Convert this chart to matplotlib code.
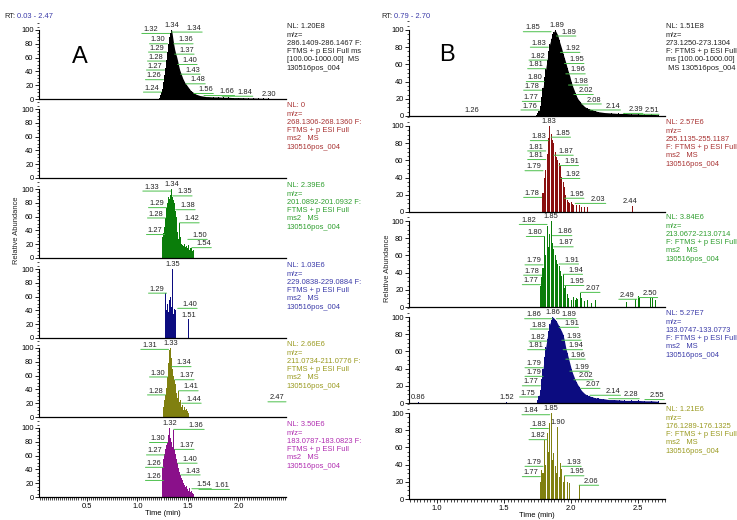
import numpy as np
import matplotlib.pyplot as plt
from matplotlib.ticker import MultipleLocator

plt.rcParams['font.family'] = ['Liberation Sans', 'DejaVu Sans']

# ---- panel A data (time in min, relative abundance) ----
t_286 = [1.22, 1.23, 1.24, 1.25, 1.26, 1.27, 1.28, 1.29, 1.30, 1.31, 1.32, 1.33, 1.34, 1.35,
         1.36, 1.37, 1.38, 1.39, 1.40, 1.41, 1.42, 1.43, 1.44, 1.45, 1.46, 1.47, 1.48, 1.49,
         1.50, 1.51, 1.52, 1.53, 1.54, 1.55, 1.56, 1.57, 1.58, 1.60, 1.62, 1.64, 1.66, 1.68,
         1.70, 1.75, 1.80, 1.85, 1.90, 1.95, 2.00, 2.05, 2.10, 2.15, 2.20, 2.25, 2.30]
y_286 = [2, 6, 10, 15, 25, 35, 45, 56, 68, 80, 90, 96, 100, 90, 80, 72, 66, 61, 55, 48, 42,
         38, 34, 30, 27, 24, 22, 20, 18, 16, 14, 12, 11, 10, 9, 8, 7, 6, 5, 4.5, 4, 3.5, 3.5,
         3, 3, 2.5, 2.5, 2, 2, 1.8, 1.5, 1.5, 1.2, 1, 1]
t_201 = [1.25, 1.26, 1.27, 1.28, 1.29, 1.30, 1.31, 1.32, 1.33, 1.34, 1.35, 1.36, 1.37, 1.38,
         1.39, 1.40, 1.41, 1.42, 1.43, 1.44, 1.45, 1.46, 1.47, 1.48, 1.49, 1.50, 1.51, 1.52,
         1.53, 1.54, 1.55, 1.56]
y_201 = [30, 36, 45, 58, 72, 80, 89, 86, 92, 100, 89, 84, 79, 68, 60, 38, 28, 51, 30, 20, 19,
         17, 20, 16, 18, 14, 19, 12, 15, 14, 10, 12]
t_229 = [1.28, 1.29, 1.30, 1.31, 1.32, 1.33, 1.34, 1.35, 1.36, 1.37, 1.38, 1.51]
y_229 = [65, 40, 50, 38, 55, 60, 45, 100, 35, 42, 40, 27]
t_211 = [1.26, 1.27, 1.28, 1.29, 1.30, 1.31, 1.32, 1.33, 1.34, 1.35, 1.36, 1.37, 1.38, 1.39,
         1.40, 1.41, 1.42, 1.43, 1.44, 1.45, 1.46, 1.47, 1.48, 1.49, 1.50, 1.51, 2.47]
y_211 = [15, 25, 32, 42, 58, 78, 97, 100, 85, 70, 60, 54, 48, 35, 28, 38, 22, 25, 15, 18, 10,
         14, 10, 12, 8, 6, 22]
t_183 = [1.25, 1.26, 1.27, 1.28, 1.29, 1.30, 1.31, 1.32, 1.33, 1.34, 1.35, 1.36, 1.37, 1.38,
         1.39, 1.40, 1.41, 1.42, 1.43, 1.44, 1.45, 1.46, 1.47, 1.48, 1.49, 1.50, 1.51, 1.52,
         1.53, 1.54, 1.55, 1.56, 1.58, 1.61]
y_183 = [44, 55, 62, 70, 76, 80, 90, 100, 86, 80, 72, 97, 70, 62, 55, 49, 42, 36, 32, 28, 24,
         20, 17, 14, 16, 11, 9, 13, 7, 9, 6, 5, 4, 11]

# ---- panel B data ----
t_273 = [1.26, 1.74, 1.75, 1.76, 1.77, 1.78, 1.79, 1.80, 1.81, 1.82, 1.83, 1.84, 1.85, 1.86,
         1.87, 1.88, 1.89, 1.90, 1.91, 1.92, 1.93, 1.94, 1.95, 1.96, 1.97, 1.98, 1.99, 2.00,
         2.01, 2.02, 2.03, 2.04, 2.05, 2.06, 2.07, 2.08, 2.10, 2.12, 2.14, 2.16, 2.18, 2.20,
         2.25, 2.30, 2.35, 2.40, 2.45, 2.50, 2.55, 2.60, 2.65]
y_273 = [0.5, 1, 3, 6, 12, 22, 32, 45, 55, 65, 75, 84, 90, 95, 98, 100, 97, 94, 88, 83, 78,
         72, 67, 62, 56, 51, 46, 40, 35, 31, 27, 23, 20, 18, 16, 14, 11, 9, 8, 7, 6, 5, 4,
         3.5, 3, 3, 2.5, 2.5, 2, 2, 1.5]
t_255 = [1.79, 1.80, 1.81, 1.82, 1.83, 1.84, 1.85, 1.86, 1.87, 1.88, 1.89, 1.90, 1.91, 1.92,
         1.93, 1.94, 1.95, 1.96, 1.97, 1.98, 1.99, 2.00, 2.01, 2.02, 2.04, 2.06, 2.08, 2.10,
         2.12, 2.46]
y_255 = [22, 40, 49, 68, 86, 100, 91, 84, 80, 70, 64, 60, 57, 53, 41, 35, 29, 20, 14, 12, 10,
         12, 9, 8, 8, 8, 6, 6, 6, 7]
t_213 = [1.77, 1.78, 1.79, 1.80, 1.81, 1.82, 1.83, 1.84, 1.85, 1.86, 1.87, 1.88, 1.89, 1.90,
         1.91, 1.92, 1.93, 1.94, 1.95, 1.96, 1.97, 1.98, 2.00, 2.02, 2.03, 2.04, 2.05, 2.07,
         2.08, 2.10, 2.12, 2.15, 2.18, 2.41, 2.48, 2.50, 2.51, 2.59, 2.61, 2.63]
y_213 = [24, 35, 45, 83, 60, 94, 70, 85, 100, 75, 68, 60, 55, 50, 48, 42, 36, 38, 22, 25, 15,
         10, 8, 12, 8, 10, 9, 16, 10, 7, 8, 5, 8, 6, 9, 13, 10, 12, 10, 8]
t_133 = [0.86, 1.52, 1.75, 1.76, 1.77, 1.78, 1.79, 1.80, 1.81, 1.82, 1.83, 1.84, 1.85, 1.86,
         1.87, 1.88, 1.89, 1.90, 1.91, 1.92, 1.93, 1.94, 1.95, 1.96, 1.97, 1.98, 1.99, 2.00,
         2.01, 2.02, 2.03, 2.04, 2.05, 2.06, 2.07, 2.08, 2.10, 2.12, 2.14, 2.16, 2.18, 2.20,
         2.24, 2.28, 2.32, 2.36, 2.40, 2.45, 2.50, 2.55, 2.60, 2.65]
y_133 = [1, 1, 3, 8, 15, 28, 40, 54, 65, 75, 84, 92, 96, 100, 99, 97, 95, 92, 89, 86, 83, 79,
         72, 64, 58, 52, 46, 40, 35, 31, 27, 24, 21, 19, 16, 14, 11, 9, 8, 7, 6, 5.5, 5, 4, 4,
         3.5, 3, 3, 3, 2.5, 2.5, 2]
t_176 = [1.77, 1.78, 1.79, 1.80, 1.81, 1.82, 1.83, 1.84, 1.85, 1.86, 1.87, 1.88, 1.89, 1.90,
         1.91, 1.92, 1.93, 1.94, 1.95, 1.97, 1.99, 2.06]
y_176 = [20, 34, 30, 69, 40, 77, 55, 88, 100, 45, 53, 38, 30, 84, 26, 42, 35, 20, 27, 20, 19, 16]

# peak labels: (text, level, side) - side: c above, l/L left (short/long lead), r/R right
lab_286 = [('1.34', 100, 'c'), ('1.32', 95, 'L'), ('1.30', 80, 'l'), ('1.29', 68, 'l'),
           ('1.28', 55, 'l'), ('1.27', 42, 'l'), ('1.26', 28, 'l'), ('1.24', 10, 'l'),
           ('1.34', 97, 'R'), ('1.36', 80, 'r'), ('1.37', 65, 'r'), ('1.40', 50, 'r'),
           ('1.43', 36, 'r'), ('1.48', 22, 'r'), ('1.56', 8, 'r'), ('1.66', 5, 'R'),
           ('1.84', 4, 'R'), ('2.30', 1, 'c')]
lab_201 = [('1.34', 100, 'c'), ('1.33', 97, 'L'), ('1.29', 73, 'l'), ('1.28', 58, 'l'),
           ('1.27', 34, 'l'), ('1.35', 90, 'r'), ('1.38', 70, 'r'), ('1.42', 51, 'r'),
           ('1.50', 27, 'r'), ('1.54', 15, 'r')]
lab_229 = [('1.35', 100, 'c'), ('1.29', 65, 'l'), ('1.40', 43, 'r'), ('1.51', 27, 'c')]
lab_211 = [('1.33', 100, 'c'), ('1.31', 98, 'L'), ('1.30', 58, 'l'), ('1.28', 32, 'l'),
           ('1.34', 73, 'r'), ('1.37', 54, 'r'), ('1.41', 38, 'r'), ('1.44', 20, 'r'),
           ('2.47', 22, 'l')]
lab_183 = [('1.32', 100, 'c'), ('1.30', 79, 'l'), ('1.27', 61, 'l'), ('1.26', 43, 'l'),
           ('1.26', 24, 'l'), ('1.36', 98, 'R'), ('1.37', 69, 'r'), ('1.40', 49, 'r'),
           ('1.43', 32, 'r'), ('1.54', 12, 'r'), ('1.61', 11, 'R')]
lab_273 = [('1.89', 100, 'c'), ('1.85', 98, 'L'), ('1.83', 80, 'l'), ('1.82', 65, 'l'),
           ('1.81', 55, 'l'), ('1.80', 40, 'l'), ('1.78', 30, 'l'), ('1.77', 17, 'l'),
           ('1.76', 7, 'l'), ('1.89', 93, 'r'), ('1.92', 74, 'r'), ('1.95', 61, 'r'),
           ('1.96', 49, 'r'), ('1.98', 36, 'r'), ('2.02', 25, 'r'), ('2.08', 14, 'r'),
           ('2.14', 7, 'R'), ('2.39', 3, 'r'), ('2.51', 2, 'r'), ('1.26', 1, 'c')]
lab_255 = [('1.83', 100, 'c'), ('1.83', 83, 'l'), ('1.81', 71, 'l'), ('1.81', 61, 'l'),
           ('1.79', 48, 'l'), ('1.78', 17, 'l'), ('1.85', 87, 'r'), ('1.87', 66, 'r'),
           ('1.91', 54, 'r'), ('1.92', 39, 'r'), ('1.95', 16, 'r'), ('2.03', 10, 'R'),
           ('2.44', 7, 'c')]
lab_213 = [('1.85', 100, 'c'), ('1.82', 96, 'L'), ('1.80', 82, 'l'), ('1.79', 49, 'l'),
           ('1.78', 37, 'l'), ('1.77', 26, 'l'), ('1.86', 83, 'r'), ('1.87', 70, 'r'),
           ('1.91', 50, 'r'), ('1.94', 38, 'r'), ('1.95', 25, 'r'), ('2.07', 17, 'r'),
           ('2.49', 9, 'l'), ('2.50', 11, 'r')]
lab_133 = [('1.86', 100, 'c'), ('1.86', 98, 'L'), ('1.83', 86, 'l'), ('1.82', 72, 'l'),
           ('1.81', 62, 'l'), ('1.79', 41, 'l'), ('1.79', 31, 'l'), ('1.77', 20, 'l'),
           ('1.75', 7, 'l'), ('1.89', 98, 'r'), ('1.91', 88, 'r'), ('1.93', 73, 'r'),
           ('1.94', 62, 'r'), ('1.96', 51, 'r'), ('1.99', 37, 'r'), ('2.02', 27, 'r'),
           ('2.07', 17, 'r'), ('2.14', 9, 'R'), ('2.28', 5, 'R'), ('2.55', 4, 'r'),
           ('1.52', 2, 'c'), ('0.86', 2, 'c')]
lab_176 = [('1.85', 100, 'c'), ('1.84', 98, 'L'), ('1.83', 82, 'l'), ('1.82', 69, 'l'),
           ('1.79', 38, 'l'), ('1.77', 26, 'l'), ('1.90', 84, 'c'), ('1.93', 38, 'r'),
           ('1.95', 27, 'r'), ('2.06', 16, 'r')]

info_a = ['NL: 1.20E8\nm/z=\n286.1409-286.1467 F:\nFTMS + p ESI Full ms\n[100.00-1000.00]  MS\n130516pos_004',
          'NL: 0\nm/z=\n268.1306-268.1360 F:\nFTMS + p ESI Full\nms2   MS\n130516pos_004',
          'NL: 2.39E6\nm/z=\n201.0892-201.0932 F:\nFTMS + p ESI Full\nms2   MS\n130516pos_004',
          'NL: 1.03E6\nm/z=\n229.0838-229.0884 F:\nFTMS + p ESI Full\nms2   MS\n130516pos_004',
          'NL: 2.66E6\nm/z=\n211.0734-211.0776 F:\nFTMS + p ESI Full\nms2   MS\n130516pos_004',
          'NL: 3.50E6\nm/z=\n183.0787-183.0823 F:\nFTMS + p ESI Full\nms2   MS\n130516pos_004']
info_b = ['NL: 1.51E8\nm/z=\n273.1250-273.1304\nF: FTMS + p ESI Full\nms [100.00-1000.00]\n MS 130516pos_004',
          'NL: 2.57E6\nm/z=\n255.1135-255.1187\nF: FTMS + p ESI Full\nms2   MS\n130516pos_004',
          'NL: 3.84E6\nm/z=\n213.0672-213.0714\nF: FTMS + p ESI Full\nms2   MS\n130516pos_004',
          'NL: 5.27E7\nm/z=\n133.0747-133.0773\nF: FTMS + p ESI Full\nms2   MS\n130516pos_004',
          'NL: 1.21E6\nm/z=\n176.1289-176.1325\nF: FTMS + p ESI Full\nms2   MS\n130516pos_004']

FS = 5.4
GREEN_LINE = '#4cc04c'
W, H = 737, 520
# (text anchor offset, far end of leader line) in points, per label side
SIDE_OFFS = {'l': (-1.5, -13), 'L': (-8, -20), 'r': (3.5, 14), 'R': (11, 22)}

fig = plt.figure(figsize=(W / 100, H / 100), dpi=100)


def panel(x0, x1, base, span, top100):
    ax = fig.add_axes([x0 / W, 1 - base / H, (x1 - x0) / W, span / H])
    ax.set_ylim(0, 100 * span / top100)
    for s in ['top', 'right']:
        ax.spines[s].set_visible(False)
    ax.spines['left'].set_bounds(0, 100)
    ax.spines['left'].set_linewidth(0.8)
    ax.spines['bottom'].set_linewidth(0.9)
    ax.set_yticks(range(0, 101, 20))
    ax.yaxis.set_minor_locator(MultipleLocator(5))
    ax.tick_params(axis='y', which='major', labelsize=FS, length=3, width=0.6, pad=1)
    ax.tick_params(axis='y', which='minor', length=1.5, width=0.5)
    ax.tick_params(axis='x', which='both', bottom=False, labelbottom=False)
    ax.patch.set_alpha(0)
    return ax


def peak_labels(ax, labels):
    for txt, lvl, side in labels:
        x = float(txt)
        if side == 'c':
            ax.annotate(txt, (x, lvl), xytext=(0, 0.5), textcoords='offset points',
                        ha='center', va='bottom', fontsize=FS, color='#222222')
            continue
        t_off, l_end = SIDE_OFFS[side]
        ax.annotate('', (x, lvl), xytext=(l_end, 0), textcoords='offset points',
                    arrowprops=dict(arrowstyle='-', color=GREEN_LINE, lw=0.7,
                                    shrinkA=0, shrinkB=0))
        ax.annotate(txt, (x, lvl), xytext=(t_off, 0.3), textcoords='offset points',
                    ha='right' if side in 'lL' else 'left', va='bottom',
                    fontsize=FS, color='#222222')


def info(ax, text, color):
    ax.annotate(text, (1, 1), xycoords='axes fraction', xytext=(0.5, -2.5),
                textcoords='offset points', ha='left', va='top', fontsize=FS,
                color=color, linespacing=1.25)


def bottom_axis(ax, ticks, minor):
    ax.set_xticks(ticks)
    ax.set_xticklabels(['%.1f' % v for v in ticks])
    ax.xaxis.set_minor_locator(MultipleLocator(minor))
    ax.tick_params(axis='x', which='both', bottom=True, labelbottom=True)
    ax.tick_params(axis='x', which='major', labelsize=FS, length=3, width=0.6, pad=1)
    ax.tick_params(axis='x', which='minor', length=2, width=0.5)
    ax.set_xlabel('Time (min)', fontsize=FS, labelpad=0.5)


# ---- column A ----
a_series = [(t_286, y_286, 'black', lab_286, True),
            (None, None, '#9b2a2a', None, False),
            (t_201, y_201, '#0a7d0a', lab_201, False),
            (t_229, y_229, '#0c0c80', lab_229, False),
            (t_211, y_211, '#808010', lab_211, False),
            (t_183, y_183, '#8a108a', lab_183, False)]
a_text_col = ['#222222', '#a83232', '#2e9e2e', '#3a3aa8', '#9a9a20', '#b02cb0']
a_base = [99, 178, 258, 338, 417, 497]

for i, (t, y, c, lab, smooth) in enumerate(a_series):
    ax = panel(39, 286, a_base[i], 79, 69)
    ax.set_xlim(0.03, 2.47)
    if t is not None:
        if smooth:
            ax.fill_between(t, y, color=c, lw=0)
        ax.bar(t, y, width=0.008, color=c, lw=0)
        peak_labels(ax, lab)
    info(ax, info_a[i], a_text_col[i])
    if i == len(a_series) - 1:
        bottom_axis(ax, [0.5, 1.0, 1.5, 2.0], 0.02)

# ---- column B ----
b_series = [(t_273, y_273, 'black', lab_273, 1),
            (t_255, y_255, '#8a1010', lab_255, None),
            (t_213, y_213, '#0a7d0a', lab_213, None),
            (t_133, y_133, '#0c0c80', lab_133, 2),
            (t_176, y_176, '#808010', lab_176, None)]
b_text_col = ['#222222', '#a83232', '#2e9e2e', '#3a3aa8', '#9a9a20']
b_base = [116, 212, 307, 403, 499]

for i, (t, y, c, lab, smooth_from) in enumerate(b_series):
    ax = panel(409, 665, b_base[i], 96, 86)
    ax.set_xlim(0.79, 2.70)
    if smooth_from is not None:
        ax.fill_between(t[smooth_from:], y[smooth_from:], color=c, lw=0)
    ax.bar(t, y, width=0.008, color=c, lw=0)
    peak_labels(ax, lab)
    info(ax, info_b[i], b_text_col[i])
    if i == len(b_series) - 1:
        bottom_axis(ax, [1.0, 1.5, 2.0, 2.5], 0.025)

# headers, letters, axis titles
fig.text(4 / W, 1 - 17 / H, 'RT:', fontsize=FS, color='#222222', va='center')
fig.text(17 / W, 1 - 17 / H, '0.03 - 2.47', fontsize=FS, color='#3a3aa8', va='center')
fig.text(381 / W, 1 - 17 / H, 'RT:', fontsize=FS, color='#222222', va='center')
fig.text(394 / W, 1 - 17 / H, '0.79 - 2.70', fontsize=FS, color='#3a3aa8', va='center')
fig.text(80 / W, 1 - 57 / H, 'A', fontsize=17, ha='center', va='center')
fig.text(447 / W, 1 - 55 / H, 'B', fontsize=17, ha='center', va='center')
fig.text(17 / W, 1 - 230 / H, 'Relative Abundance', fontsize=FS, rotation=90,
         ha='center', va='center', color='#222222')
fig.text(387 / W, 1 - 268 / H, 'Relative Abundance', fontsize=FS, rotation=90,
         ha='center', va='center', color='#222222')

fig.savefig('out.png', dpi=100)
